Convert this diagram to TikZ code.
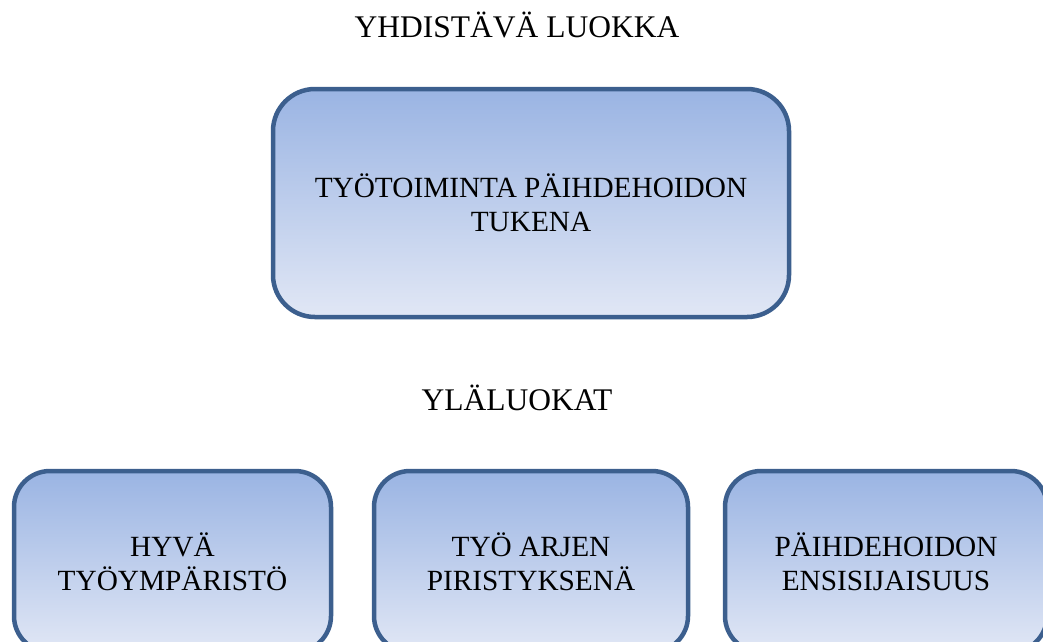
\documentclass[tikz,border=0pt]{standalone}
\usepackage{fontspec}
\setmainfont{Liberation Serif}
\definecolor{boxborder}{RGB}{60,95,142}
\definecolor{boxtop}{RGB}{154,180,227}
\definecolor{boxbot}{RGB}{225,231,245}
\begin{document}
\begin{tikzpicture}[x=1pt,y=-1pt,
  box/.style={draw=boxborder, line width=4.5pt, top color=boxtop, bottom color=boxbot,
    align=center, inner sep=0pt, font=\fontsize{29.3}{34}\selectfont},
  heading/.style={font=\fontsize{31.5}{36}\selectfont, inner sep=0pt}]
\path[use as bounding box] (0,0) rectangle (1043,641);
\clip (0,0) rectangle (1043,641);
\node[heading] (title) at (517,25) {YHDISTÄVÄ LUOKKA};
\node[box, rounded corners=42pt, minimum width=516pt, minimum height=228pt] (main) at (531,203) {TYÖTOIMINTA PÄIHDEHOIDON\\TUKENA};
\node[heading] (sub) at (517,398) {YLÄLUOKAT};
\node[box, rounded corners=36pt, minimum width=317pt, minimum height=181pt] (b1) at (172.5,561.5) {HYVÄ\\TYÖYMPÄRISTÖ};
\node[box, rounded corners=36pt, minimum width=314pt, minimum height=181pt] (b2) at (531,561.5) {TYÖ ARJEN\\PIRISTYKSENÄ};
\node[box, rounded corners=36pt, minimum width=322pt, minimum height=181pt] (b3) at (886,561.5) {PÄIHDEHOIDON\\ENSISIJAISUUS};
\end{tikzpicture}
\end{document}
